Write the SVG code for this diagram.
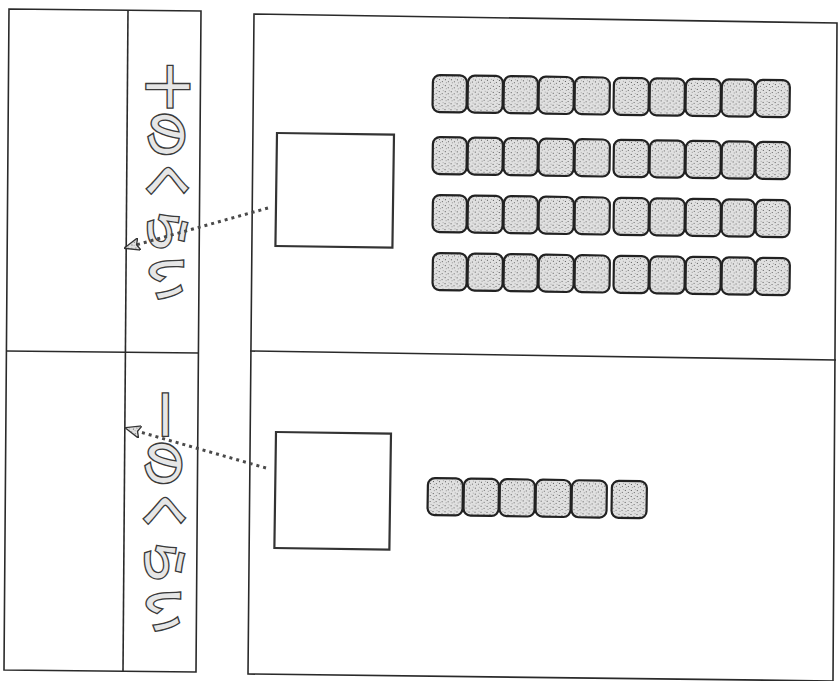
<svg xmlns="http://www.w3.org/2000/svg" width="838" height="681" viewBox="0 0 838 681">
  <defs>
    <pattern id="stip" width="6" height="6" patternUnits="userSpaceOnUse">
      <rect width="6" height="6" fill="#e0e0e0"/>
      <rect x="1" y="1" width="1" height="1" fill="#555"/>
      <rect x="4" y="3" width="1" height="1" fill="#666"/>
      <rect x="2" y="4" width="1" height="1" fill="#999"/>
      <rect x="5" y="0" width="1" height="1" fill="#aaa"/>
    </pattern>
    <marker id="ah" viewBox="0 0 16 13" refX="15" refY="6.5" markerWidth="16" markerHeight="13" markerUnits="userSpaceOnUse" orient="auto">
      <path d="M16,6.5 L0,0 L3,6.5 L0,13 Z" fill="url(#stip)" stroke="#333" stroke-width="1.3"/>
    </marker>
  </defs>
  <style>
    .frame { fill: none; stroke: #2a2a2a; stroke-width: 1.6; }
    .box { fill: #ffffff; stroke: #333; stroke-width: 2.2; }
    .cube { fill: url(#stip); stroke: #222; stroke-width: 2.2; }
    .lbl { font-family: "Noto Sans CJK JP", "Noto Sans", sans-serif; font-size: 47px; font-weight: 700; fill: #e6e6e6; stroke: #3a3a3a; stroke-width: 1.3; letter-spacing: 1px; text-rendering: geometricPrecision; }
    .conn { fill: none; stroke: #4a4a4a; stroke-width: 3; stroke-dasharray: 3 4; }
  </style>
  <rect width="838" height="681" fill="#ffffff"/>

  <g id="left-table">
    <path class="frame" d="M9,9 L201,11 L196,672 L4,670 Z"/>
    <path class="frame" d="M128,10 L123,671"/>
    <path class="frame" d="M6,351 L199,353"/>
  </g>

  <g id="right-panel">
    <path class="frame" d="M254,14 L837,23 L833,681 L248,674 Z"/>
    <path class="frame" d="M250,351 L836,360"/>
  </g>

  <g id="label-tens">
    <text class="lbl" transform="translate(150,63) rotate(90)">十のくらい</text>
  </g>
  <g id="label-ones">
    <text class="lbl" transform="translate(147,391) rotate(90)" style="letter-spacing:2px">一のくらい</text>
  </g>

  <g id="box-tens">
    <rect class="box" x="277" y="133" width="117" height="113" transform="rotate(0.8 277 133)"/>
  </g>
  <g id="box-ones">
    <rect class="box" x="276" y="432" width="115" height="116" transform="rotate(0.8 276 432)"/>
  </g>

  <g id="tens-cubes">
    <g id="row1" transform="rotate(0.85 433 75)">
      <rect class="cube" x="433" y="75" width="34" height="37" rx="7"/>
      <rect class="cube" x="468" y="75" width="35" height="37" rx="7"/>
      <rect class="cube" x="504" y="75" width="34" height="37" rx="7"/>
      <rect class="cube" x="539" y="75" width="35" height="37" rx="7"/>
      <rect class="cube" x="575" y="75" width="35" height="37" rx="7"/>
      <rect class="cube" x="614" y="75" width="35" height="37" rx="7"/>
      <rect class="cube" x="650" y="75" width="35" height="37" rx="7"/>
      <rect class="cube" x="686" y="75" width="35" height="37" rx="7"/>
      <rect class="cube" x="722" y="75" width="33" height="37" rx="7"/>
      <rect class="cube" x="756" y="75" width="34" height="37" rx="7"/>
    </g>
    <g id="row2" transform="rotate(0.85 433 137)">
      <rect class="cube" x="433" y="137" width="34" height="37" rx="7"/>
      <rect class="cube" x="468" y="137" width="35" height="37" rx="7"/>
      <rect class="cube" x="504" y="137" width="34" height="37" rx="7"/>
      <rect class="cube" x="539" y="137" width="35" height="37" rx="7"/>
      <rect class="cube" x="575" y="137" width="35" height="37" rx="7"/>
      <rect class="cube" x="614" y="137" width="35" height="37" rx="7"/>
      <rect class="cube" x="650" y="137" width="35" height="37" rx="7"/>
      <rect class="cube" x="686" y="137" width="35" height="37" rx="7"/>
      <rect class="cube" x="722" y="137" width="33" height="37" rx="7"/>
      <rect class="cube" x="756" y="137" width="34" height="37" rx="7"/>
    </g>
    <g id="row3" transform="rotate(0.85 433 195)">
      <rect class="cube" x="433" y="195" width="34" height="37" rx="7"/>
      <rect class="cube" x="468" y="195" width="35" height="37" rx="7"/>
      <rect class="cube" x="504" y="195" width="34" height="37" rx="7"/>
      <rect class="cube" x="539" y="195" width="35" height="37" rx="7"/>
      <rect class="cube" x="575" y="195" width="35" height="37" rx="7"/>
      <rect class="cube" x="614" y="195" width="35" height="37" rx="7"/>
      <rect class="cube" x="650" y="195" width="35" height="37" rx="7"/>
      <rect class="cube" x="686" y="195" width="35" height="37" rx="7"/>
      <rect class="cube" x="722" y="195" width="33" height="37" rx="7"/>
      <rect class="cube" x="756" y="195" width="34" height="37" rx="7"/>
    </g>
    <g id="row4" transform="rotate(0.85 433 253)">
      <rect class="cube" x="433" y="253" width="34" height="37" rx="7"/>
      <rect class="cube" x="468" y="253" width="35" height="37" rx="7"/>
      <rect class="cube" x="504" y="253" width="34" height="37" rx="7"/>
      <rect class="cube" x="539" y="253" width="35" height="37" rx="7"/>
      <rect class="cube" x="575" y="253" width="35" height="37" rx="7"/>
      <rect class="cube" x="614" y="253" width="35" height="37" rx="7"/>
      <rect class="cube" x="650" y="253" width="35" height="37" rx="7"/>
      <rect class="cube" x="686" y="253" width="35" height="37" rx="7"/>
      <rect class="cube" x="722" y="253" width="33" height="37" rx="7"/>
      <rect class="cube" x="756" y="253" width="34" height="37" rx="7"/>
    </g>
  </g>

  <g id="ones-cubes" transform="rotate(0.85 428 478)">
    <rect class="cube" x="428" y="478" width="35" height="37" rx="7"/>
    <rect class="cube" x="464" y="478" width="35" height="37" rx="7"/>
    <rect class="cube" x="500" y="478" width="35" height="37" rx="7"/>
    <rect class="cube" x="536" y="478" width="35" height="37" rx="7"/>
    <rect class="cube" x="572" y="478" width="35" height="37" rx="7"/>
    <rect class="cube" x="612" y="478" width="35" height="37" rx="7"/>
  </g>

  <g id="connectors">
    <path class="conn" d="M268,208 L125,248" marker-end="url(#ah)"/>
    <path class="conn" d="M266,468 L126,428" marker-end="url(#ah)"/>
  </g>
</svg>
